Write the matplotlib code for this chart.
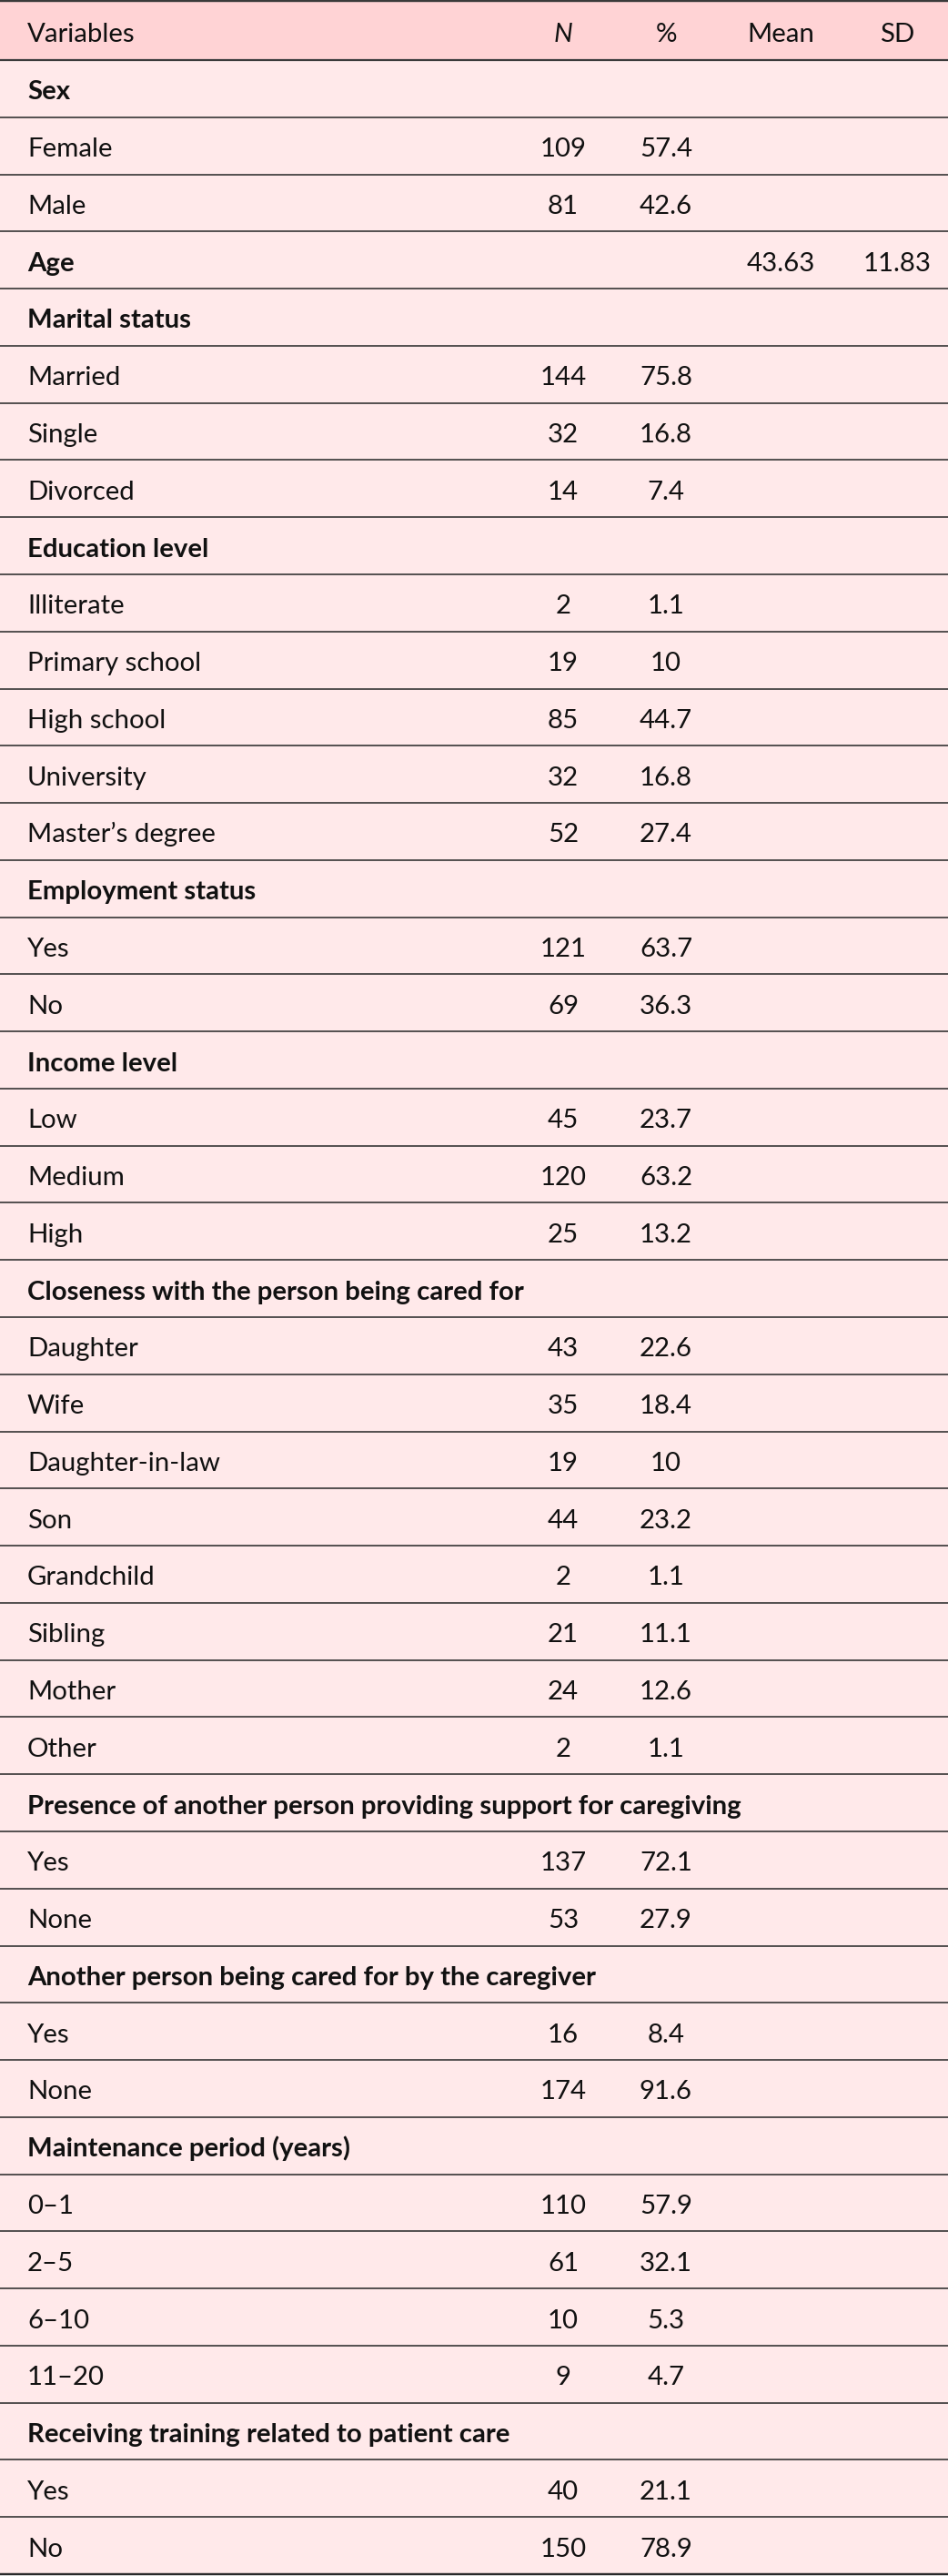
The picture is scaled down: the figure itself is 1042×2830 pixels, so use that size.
import matplotlib
matplotlib.use("Agg")
import matplotlib.pyplot as plt

headers = ["Variables", "N", "%", "Mean", "SD"]

labels = [
    "Sex", "Female", "Male", "Age", "Marital status", "Married", "Single", "Divorced",
    "Education level", "Illiterate", "Primary school", "High school", "University",
    "Master\u2019s degree", "Employment status", "Yes", "No", "Income level", "Low",
    "Medium", "High", "Closeness with the person being cared for", "Daughter", "Wife",
    "Daughter-in-law", "Son", "Grandchild", "Sibling", "Mother", "Other",
    "Presence of another person providing support for caregiving", "Yes", "None",
    "Another person being cared for by the caregiver", "Yes", "None",
    "Maintenance period (years)", "0\u20131", "2\u20135", "6\u201310", "11\u201320",
    "Receiving training related to patient care", "Yes", "No",
]
is_heading = [
    True, False, False, True, True, False, False, False,
    True, False, False, False, False,
    False, True, False, False, True, False,
    False, False, True, False, False,
    False, False, False, False, False, False,
    True, False, False,
    True, False, False,
    True, False, False, False, False,
    True, False, False,
]
n_vals = [
    "", "109", "81", "", "", "144", "32", "14",
    "", "2", "19", "85", "32",
    "52", "", "121", "69", "", "45",
    "120", "25", "", "43", "35",
    "19", "44", "2", "21", "24", "2",
    "", "137", "53",
    "", "16", "174",
    "", "110", "61", "10", "9",
    "", "40", "150",
]
pct_vals = [
    "", "57.4", "42.6", "", "", "75.8", "16.8", "7.4",
    "", "1.1", "10", "44.7", "16.8",
    "27.4", "", "63.7", "36.3", "", "23.7",
    "63.2", "13.2", "", "22.6", "18.4",
    "10", "23.2", "1.1", "11.1", "12.6", "1.1",
    "", "72.1", "27.9",
    "", "8.4", "91.6",
    "", "57.9", "32.1", "5.3", "4.7",
    "", "21.1", "78.9",
]
mean_vals = [""] * len(labels)
sd_vals = [""] * len(labels)
mean_vals[3] = "43.63"
sd_vals[3] = "11.83"

W, H = 1042, 2830
DPI = 100
plt.rcParams["font.family"] = ["Lato", "DejaVu Sans"]

fig = plt.figure(figsize=(W / DPI, H / DPI), dpi=DPI)
ax = fig.add_axes([0, 0, 1, 1])
ax.set_xlim(0, W)
ax.set_ylim(H, 0)
ax.axis("off")

header_top = 1.0
header_bot = 66.0
table_bot = 2828.0
nrows = len(labels)
row_h = (table_bot - header_bot) / nrows

header_bg = "#FFD3D5"
body_bg = "#FFE9EA"
text_color = "#111111"
line_color = "#2e2e2e"
fs = 21.2
left_x = 30
col_x = [619, 732, 858, 986]
px = 72.0 / DPI  # points per pixel

# backgrounds
ax.axhspan(header_top, header_bot, color=header_bg, lw=0, zorder=0)
ax.axhspan(header_bot, table_bot, color=body_bg, lw=0, zorder=0)

# header text
hy = (header_top + header_bot) / 2 + 13
ax.text(left_x, hy, headers[0], ha="left", va="baseline", fontsize=fs, color=text_color)
for j, h in enumerate(headers[1:]):
    ax.text(col_x[j], hy, h, ha="center", va="baseline", fontsize=fs, color=text_color,
            style="italic" if h == "N" else "normal")

# body rows
for i, lab in enumerate(labels):
    top = header_bot + i * row_h
    yb = top + row_h / 2 + 12
    ax.text(left_x, yb, lab, ha="left", va="baseline", fontsize=fs, color=text_color,
            fontweight="bold" if is_heading[i] else "normal")
    for j, v in enumerate([n_vals[i], pct_vals[i], mean_vals[i], sd_vals[i]]):
        if v:
            ax.text(col_x[j], yb, v, ha="center", va="baseline", fontsize=fs, color=text_color)
    if i > 0:
        ax.axhline(top, color=line_color, lw=1.6 * px, zorder=2)

# rules
ax.axhline(header_top, color="#3a3a3a", lw=2.4 * px, zorder=3)
ax.axhline(header_bot, color="#3a3a3a", lw=2.2 * px, zorder=3)
ax.axhline(table_bot, color="#2a2a2a", lw=2.4 * px, zorder=3)

fig.savefig("out.png", dpi=DPI)
